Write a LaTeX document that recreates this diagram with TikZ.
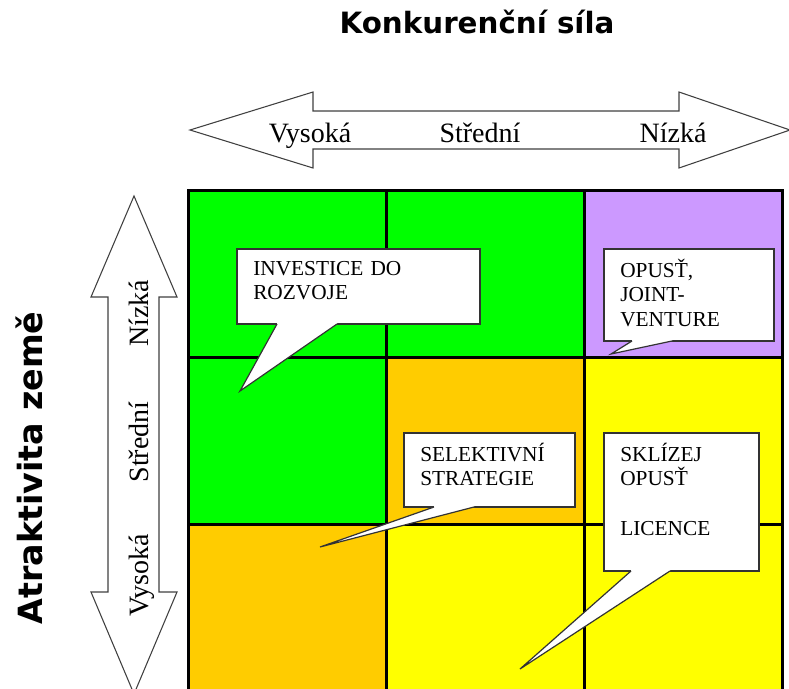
\documentclass[tikz,border=0pt]{standalone}
\usepackage{fontspec}
\setmainfont{Liberation Serif}
\newfontfamily\headfont{DejaVu Sans}
\usepackage{tikz}
\usetikzlibrary{positioning}
\definecolor{cellgreen}{RGB}{0,255,0}
\definecolor{cellpurple}{RGB}{204,153,255}
\definecolor{cellorange}{RGB}{255,204,0}
\definecolor{cellyellow}{RGB}{255,255,0}
\tikzstyle{cellblock} = [rectangle, minimum width=148.5pt, minimum height=125.25pt,
  inner sep=0pt, outer sep=0pt, draw=black, line width=2.25pt]
\tikzstyle{bigarrow} = [draw=black!75, fill=white, line width=0.8pt, line join=miter]
\tikzstyle{axislabel} = [inner sep=0pt, anchor=base, font=\fontsize{21}{25}\selectfont]
\tikzstyle{headlabel} = [inner sep=0pt, anchor=base, font=\headfont\bfseries\fontsize{22}{26}\selectfont]
\tikzstyle{callbox} = [rectangle, anchor=north west, inner sep=0pt, outer sep=0pt,
  draw=black!80, fill=white, line width=0.9pt]
\tikzstyle{calltail} = [draw=black!80, line width=0.9pt, line join=miter]
\tikzstyle{calltext} = [inner sep=0pt, anchor=base west, text width=150pt, align=left,
  font=\fontsize{16}{18.5}\selectfont]

\begin{document}
\begin{tikzpicture}[x=0.75pt, y=-0.75pt]
  \useasboundingbox (0,0) rectangle (789,689);
  \clip (0,0) rectangle (789,689);
  % headings
  \node (title) [headlabel] at (477,33) {Konkurenční síla};
  \node (side) [headlabel, rotate=90, font=\headfont\bfseries\fontsize{25}{30}\selectfont] at (42,468) {Atraktivita země};
  % the two wide arrows
  \draw [bigarrow] (190,130) -- (313,92) -- (313,111) -- (679,111) -- (679,92) -- (790,130)
    -- (679,168) -- (679,149) -- (313,149) -- (313,168) -- cycle;
  \draw [bigarrow] (134,196) -- (177,297) -- (159,297) -- (159,592) -- (177,592) -- (134,694)
    -- (91,592) -- (108,592) -- (108,297) -- (91,297) -- cycle;
  \node (hivys) [axislabel] at (310,142) {Vysoká};
  \node (histr) [axislabel] at (480,142) {Střední};
  \node (hiniz) [axislabel] at (673,142) {Nízká};
  \node (viniz) [axislabel, rotate=90] at (148,313) {Nízká};
  \node (vistr) [axislabel, rotate=90] at (148,442) {Střední};
  \node (vivys) [axislabel, rotate=90] at (148,575) {Vysoká};
  % the 3x3 matrix
  \node (c11) [cellblock, fill=cellgreen] at (287,273.5) {};
  \node (c12) [cellblock, fill=cellgreen, right=0pt of c11] {};
  \node (c13) [cellblock, fill=cellpurple, right=0pt of c12] {};
  \node (c21) [cellblock, fill=cellgreen, below=0pt of c11] {};
  \node (c22) [cellblock, fill=cellorange, right=0pt of c21] {};
  \node (c23) [cellblock, fill=cellyellow, right=0pt of c22] {};
  \node (c31) [cellblock, fill=cellorange, below=0pt of c21] {};
  \node (c32) [cellblock, fill=cellyellow, right=0pt of c31] {};
  \node (c33) [cellblock, fill=cellyellow, right=0pt of c32] {};
  % callouts
  \node (inv) [callbox, minimum width=182.25pt, minimum height=56.25pt] at (237,249) {};
  \coordinate (invtip) at (240,391);
  \fill [white] ([shift={(40,-2)}]inv.south west) -- ([shift={(40,0)}]inv.south west) -- (invtip)
    -- ([shift={(100,0)}]inv.south west) -- ([shift={(100,-2)}]inv.south west) -- cycle;
  \draw [calltail] ([shift={(40,0)}]inv.south west) -- (invtip) -- ([shift={(100,0)}]inv.south west);
  \node (invtext) [calltext] at ([shift={(16,26)}]inv.north west) {INVESTICE DO\\ROZVOJE};

  \node (opu) [callbox, minimum width=127.5pt, minimum height=69pt] at (604,249) {};
  \coordinate (oputip) at (611,354);
  \fill [white] ([shift={(28,-2)}]opu.south west) -- ([shift={(28,0)}]opu.south west) -- (oputip)
    -- ([shift={(68,0)}]opu.south west) -- ([shift={(68,-2)}]opu.south west) -- cycle;
  \draw [calltail] ([shift={(28,0)}]opu.south west) -- (oputip) -- ([shift={(68,0)}]opu.south west);
  \node (oputext) [calltext] at ([shift={(16,28)}]opu.north west) {OPUSŤ,\\JOINT-\\VENTURE};

  \node (sel) [callbox, minimum width=128.25pt, minimum height=55.5pt] at (404,433) {};
  \coordinate (seltip) at (320,547);
  \fill [white] ([shift={(30,-2)}]sel.south west) -- ([shift={(30,0)}]sel.south west) -- (seltip)
    -- ([shift={(70,0)}]sel.south west) -- ([shift={(70,-2)}]sel.south west) -- cycle;
  \draw [calltail] ([shift={(30,0)}]sel.south west) -- (seltip) -- ([shift={(70,0)}]sel.south west);
  \node (seltext) [calltext] at ([shift={(16,28)}]sel.north west) {SELEKTIVNÍ\\STRATEGIE};

  \node (skl) [callbox, minimum width=116.25pt, minimum height=103.5pt] at (604,433) {};
  \coordinate (skltip) at (520,669);
  \fill [white] ([shift={(27,-2)}]skl.south west) -- ([shift={(27,0)}]skl.south west) -- (skltip)
    -- ([shift={(66,0)}]skl.south west) -- ([shift={(66,-2)}]skl.south west) -- cycle;
  \draw [calltail] ([shift={(27,0)}]skl.south west) -- (skltip) -- ([shift={(66,0)}]skl.south west);
  \node (skltext) [calltext] at ([shift={(16,28)}]skl.north west) {SKLÍZEJ\\OPUSŤ\\\mbox{}\\LICENCE};
\end{tikzpicture}
\end{document}
